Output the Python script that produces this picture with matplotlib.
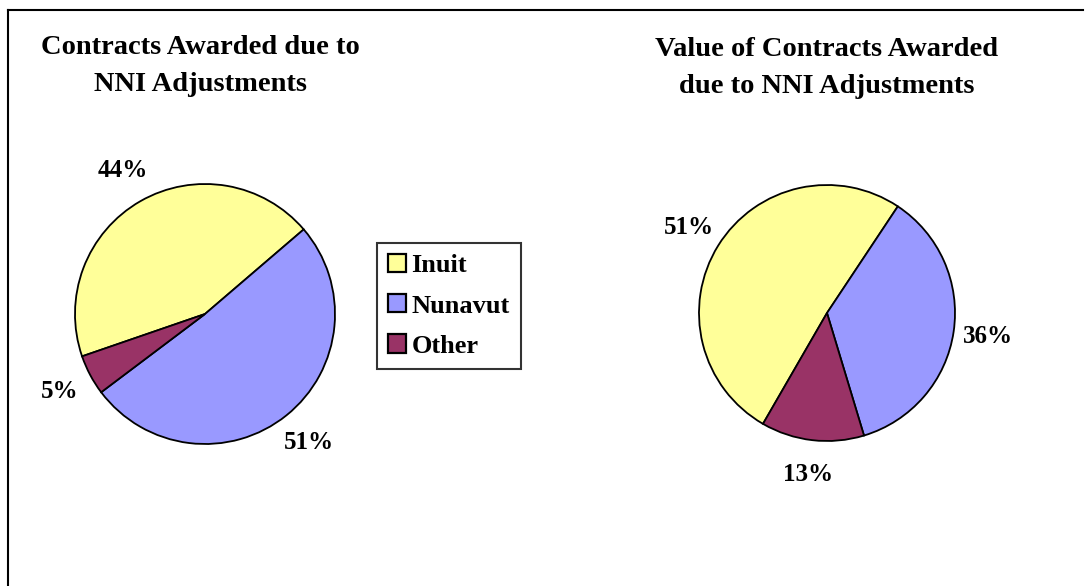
import matplotlib
matplotlib.use("Agg")
import matplotlib.pyplot as plt
from matplotlib.patches import Patch
from matplotlib.lines import Line2D

plt.rcParams['font.family'] = ['Liberation Serif', 'DejaVu Serif']
plt.rcParams['font.weight'] = 'bold'

categories = ["Inuit", "Nunavut", "Other"]
contracts_share = [44, 51, 5]
value_share = [51, 36, 13]
colors = ["#FFFF99", "#9999FF", "#993366"]
titles = ["Contracts Awarded due to\nNNI Adjustments",
          "Value of Contracts Awarded\ndue to NNI Adjustments"]

W, H = 1086, 586
fig = plt.figure(figsize=(W / 100, H / 100), dpi=100)
ax = fig.add_axes([0, 0, 1, 1])

wp = dict(edgecolor="black", linewidth=1.3)
tp = dict(fontsize=18, fontweight="bold", color="black")

ax.pie(contracts_share, colors=colors, startangle=199, counterclock=False,
       center=(205, H - 314), radius=130, frame=True, wedgeprops=wp,
       autopct="%d%%", pctdistance=1.27, textprops=tp)
ax.pie(value_share, colors=colors, startangle=240, counterclock=False,
       center=(827, H - 313), radius=128, frame=True, wedgeprops=wp,
       autopct="%d%%", pctdistance=1.27, textprops=tp)

ax.set_xlim(0, W)
ax.set_ylim(0, H)
ax.set_aspect("auto")
ax.axis("off")

fig.text(200 / W, 1 - 66 / H, titles[0], ha="center", va="center",
         fontsize=20.5, fontweight="bold", linespacing=1.6)
fig.text(827 / W, 1 - 68 / H, titles[1], ha="center", va="center",
         fontsize=20.5, fontweight="bold", linespacing=1.6)

handles = [Patch(facecolor=c, edgecolor="black", linewidth=1.6) for c in colors]
leg = fig.legend(handles, categories, loc="upper left",
                 bbox_to_anchor=(377 / W, 1 - 243 / H), frameon=True,
                 fancybox=False, edgecolor="black", fontsize=19,
                 handlelength=0.68, handleheight=0.68, handletextpad=0.2,
                 labelspacing=0.64, borderpad=0.42, borderaxespad=0)
leg.get_frame().set_linewidth(1.5)

fig.add_artist(Line2D([8 / W, 8 / W], [0, 1 - 10 / H], color="black", lw=1.5,
                      transform=fig.transFigure))
fig.add_artist(Line2D([8 / W, 1083 / W], [1 - 10 / H, 1 - 10 / H], color="black",
                      lw=1.5, transform=fig.transFigure))

fig.savefig("out.png", dpi=100)
